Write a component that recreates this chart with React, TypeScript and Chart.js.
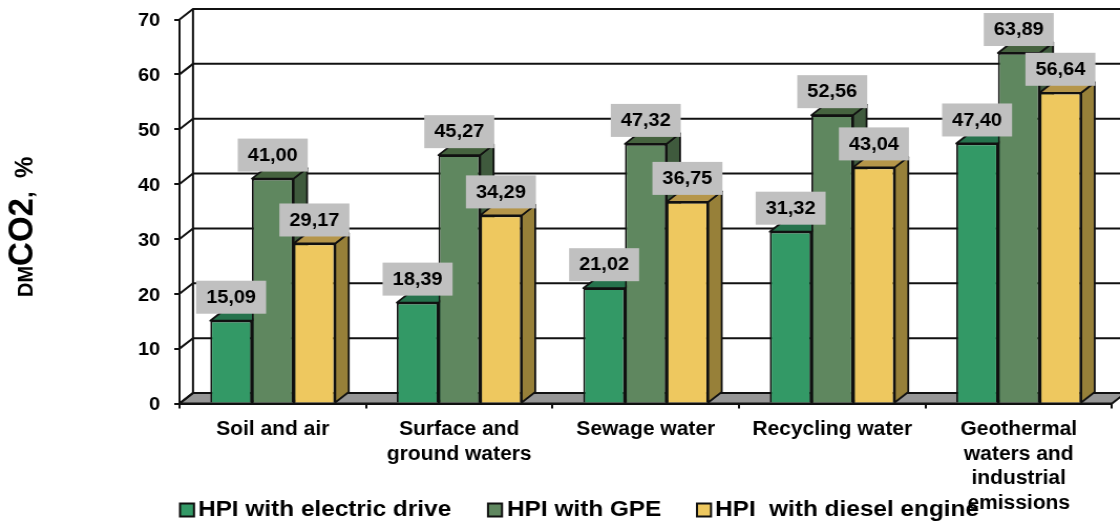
import React, { useEffect, useRef } from "react";
import { Chart, registerables } from "chart.js";

Chart.register(...registerables);

const categories = [
  "Soil and air",
  ["Surface and", "ground waters"],
  "Sewage water",
  "Recycling water",
  ["Geothermal", "waters and", "industrial", "emissions"],
];
const electricDrive = [15.09, 18.39, 21.02, 31.32, 47.4];
const gpe = [41.0, 45.27, 47.32, 52.56, 63.89];
const dieselEngine = [29.17, 34.29, 36.75, 43.04, 56.64];
const seriesNames = ["HPI with electric drive", "HPI with GPE", "HPI  with diesel engine"];
const frontColors = ["#339966", "#5F875F", "#EEC85F"];
const sideColors = ["#266F4B", "#3F5A3D", "#978039"];
const topColors = ["#26734D", "#46633F", "#B5964A"];
const legendBoxX = [180, 488, 697];
const legendTextX = [198, 507, 715];

const FONT = '"Liberation Sans", Arial, sans-serif';
const INK = "#111111";
const CANVAS_W = 1067;
const K = 1120 / CANVAS_W; // the reference is stretched horizontally
const X = (v: number) => v / K;
const DX = X(13.5);
const DY = -10.5;

const depthPlugin = {
  id: "depth",
  beforeDatasetsDraw(chart: any) {
    const { ctx, chartArea, scales } = chart;
    const { left, right, bottom, top } = chartArea;
    const y = scales.y;
    ctx.save();
    ctx.beginPath();
    ctx.moveTo(left, bottom);
    ctx.lineTo(left + DX, bottom + DY);
    ctx.lineTo(right + DX, bottom + DY);
    ctx.lineTo(right, bottom);
    ctx.closePath();
    ctx.fillStyle = "#969696";
    ctx.fill();
    ctx.strokeStyle = INK;
    ctx.lineWidth = 2;
    ctx.stroke();
    y.ticks.forEach((t: any) => {
      const py = y.getPixelForValue(t.value);
      ctx.beginPath();
      ctx.moveTo(left, py);
      ctx.lineTo(left + DX, py + DY);
      ctx.lineTo(right + DX, py + DY);
      ctx.stroke();
    });
    ctx.beginPath();
    ctx.moveTo(left + DX, bottom + DY);
    ctx.lineTo(left + DX, top + DY);
    ctx.stroke();

    // side and top faces, first series first, fronts are drawn by the library afterwards
    ctx.strokeStyle = INK;
    ctx.lineWidth = 1.8;
    ctx.lineJoin = "round";
    chart.data.datasets.forEach((_: any, i: number) => {
      chart.getDatasetMeta(i).data.forEach((bar: any) => {
        const l = bar.x - bar.width / 2;
        const r = bar.x + bar.width / 2;
        const t = bar.y;
        const b = bar.base;
        ctx.beginPath();
        ctx.moveTo(r, t);
        ctx.lineTo(r + DX, t + DY);
        ctx.lineTo(r + DX, b + DY);
        ctx.lineTo(r, b);
        ctx.closePath();
        ctx.fillStyle = sideColors[i];
        ctx.fill();
        ctx.stroke();
        ctx.beginPath();
        ctx.moveTo(l, t);
        ctx.lineTo(l + DX, t + DY);
        ctx.lineTo(r + DX, t + DY);
        ctx.lineTo(r, t);
        ctx.closePath();
        ctx.fillStyle = topColors[i];
        ctx.fill();
        ctx.stroke();
      });
    });
    ctx.restore();
  },
  afterDatasetsDraw(chart: any) {
    const { ctx } = chart;
    ctx.save();
    ctx.textAlign = "center";
    ctx.textBaseline = "middle";
    ctx.font = `bold 19px ${FONT}`;
    chart.data.datasets.forEach((ds: any, i: number) => {
      chart.getDatasetMeta(i).data.forEach((bar: any, j: number) => {
        const w = X(70);
        const h = 33;
        const bx = bar.x - w / 2;
        const by = bar.y - 7 - h;
        ctx.fillStyle = "#C0C0C0";
        ctx.fillRect(bx, by, w, h);
        ctx.fillStyle = "#000000";
        ctx.fillText(ds.data[j].toFixed(2).replace(".", ","), bar.x, by + h / 2 + 0.5);
      });
    });
    ctx.restore();
  },
  afterDraw(chart: any) {
    const { ctx } = chart;
    ctx.save();
    chart.data.datasets.forEach((ds: any, i: number) => {
      ctx.fillStyle = frontColors[i];
      ctx.fillRect(X(legendBoxX[i]), 503.5, X(14), 13);
      ctx.strokeStyle = INK;
      ctx.lineWidth = 2;
      ctx.strokeRect(X(legendBoxX[i]), 503.5, X(14), 13);
      ctx.save();
      ctx.translate(X(legendTextX[i]), 510);
      ctx.scale(1.055, 1);
      ctx.textBaseline = "middle";
      ctx.textAlign = "left";
      ctx.font = `bold 22px ${FONT}`;
      ctx.fillStyle = "#000000";
      ctx.fillText(ds.label, 0, 0);
      ctx.restore();
    });
    // y title with mixed sizes
    ctx.translate(X(33), 297);
    ctx.rotate(-Math.PI / 2);
    ctx.textBaseline = "alphabetic";
    ctx.textAlign = "left";
    ctx.fillStyle = "#000000";
    let x = 0;
    const parts: [string, number][] = [["DM", 20], ["CO2", 33], [",  %", 24]];
    parts.forEach(([s, size]) => {
      ctx.font = `bold ${size}px ${FONT}`;
      ctx.fillText(s, x, 0);
      x += ctx.measureText(s).width;
    });
    ctx.restore();
  },
};

export default function App() {
  const ref = useRef<HTMLCanvasElement>(null);
  useEffect(() => {
    const mk = (i: number, data: number[]) => ({
      label: seriesNames[i],
      data,
      backgroundColor: frontColors[i],
      borderColor: INK,
      borderWidth: 1.8,
    });
    const chart = new Chart(ref.current!, {
      type: "bar",
      data: {
        labels: categories as any,
        datasets: [mk(0, electricDrive), mk(1, gpe), mk(2, dieselEngine)],
      },
      plugins: [depthPlugin],
      options: {
        animation: false,
        responsive: false,
        layout: { padding: { top: 19.5, right: X(8), left: 0, bottom: 0 } },
        datasets: { bar: { categoryPercentage: 0.67, barPercentage: 1 } },
        plugins: { legend: { display: false }, tooltip: { enabled: false } },
        scales: {
          x: {
            grid: { drawOnChartArea: false, drawTicks: true, tickLength: 5, color: INK, lineWidth: 2 },
            border: { color: INK, width: 2 },
            ticks: {
              color: "#000",
              padding: 9,
              maxRotation: 0,
              autoSkip: false,
              font: { family: FONT, weight: "bold", size: 20, lineHeight: 1.225 },
            },
            afterFit: (s: any) => { s.height = 120.5; s.paddingLeft = 0; s.paddingRight = 0; },
          },
          y: {
            min: 0,
            max: 70,
            grid: { drawOnChartArea: false, drawTicks: true, tickLength: 5, color: INK, lineWidth: 2 },
            border: { color: INK, width: 2 },
            ticks: {
              stepSize: 10,
              color: "#000",
              padding: X(14),
              labelOffset: 1.5,
              font: { family: FONT, weight: "bold", size: 19 },
            },
            afterFit: (s: any) => { s.width = X(179.5); s.paddingTop = 0; s.paddingBottom = 0; },
          },
        },
      } as any,
    });
    return () => chart.destroy();
  }, []);
  return (
    <div style={{ position: "absolute", left: 0, top: 0, width: 1120, height: 524, overflow: "hidden" }}>
      <canvas
        ref={ref}
        width={CANVAS_W}
        height={524}
        style={{ display: "block", transform: `scaleX(${K})`, transformOrigin: "0 0" }}
      />
    </div>
  );
}
